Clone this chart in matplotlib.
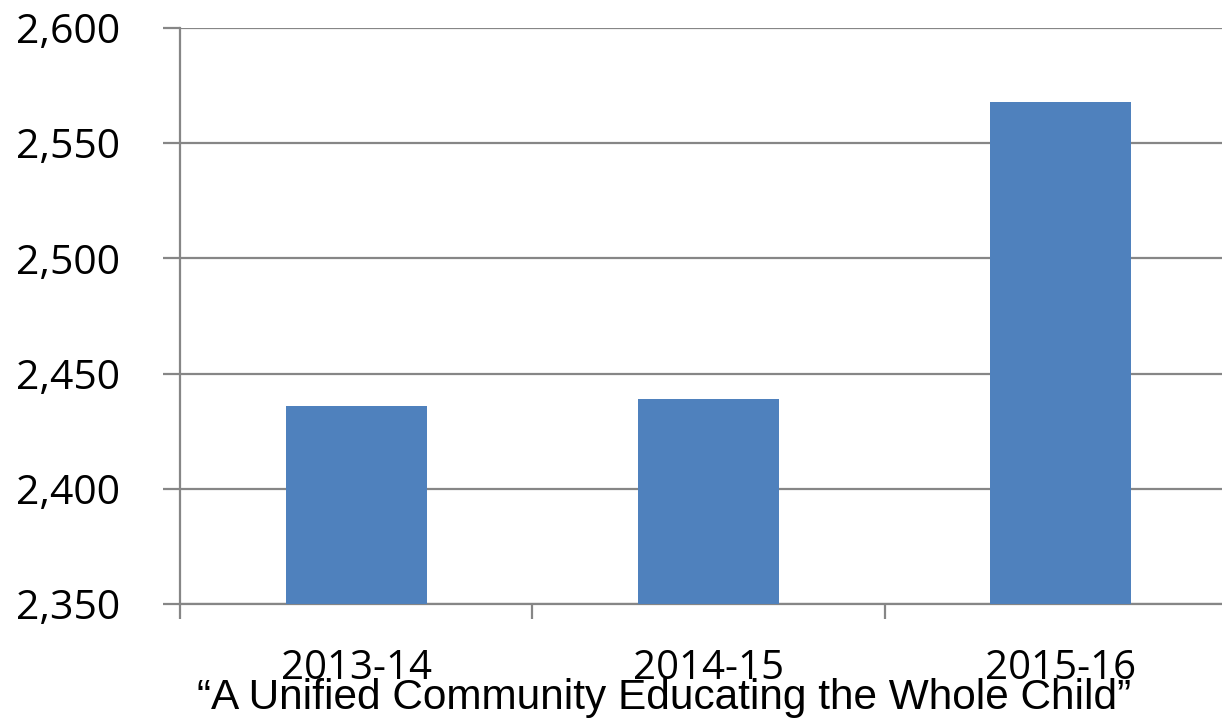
import matplotlib
matplotlib.use("Agg")
import matplotlib.pyplot as plt
from matplotlib.ticker import FuncFormatter, FixedLocator

categories = ["2013-14", "2014-15", "2015-16"]
values = [2436, 2439, 2568]
yticks = [2350, 2400, 2450, 2500, 2550, 2600]
footer = "\u201cA Unified Community Educating the Whole Child\u201d"

fig = plt.figure(figsize=(12.22, 7.19), dpi=100)
W, H = 1222, 719
ax = fig.add_axes([180 / W, 115 / H, 1057 / W, 576 / H])

x = list(range(len(categories)))
ax.bar(x, values, width=0.4, color="#4F81BD", zorder=3)
ax.set_xlim(-0.5, len(categories) - 0.5)
ax.set_ylim(yticks[0], yticks[-1])

grid_c = "#868686"
ax.set_yticks(yticks)
ax.yaxis.set_major_formatter(FuncFormatter(lambda v, p: f"{int(v):,}"))
ax.grid(axis="y", color=grid_c, linewidth=1.6, zorder=1)
ax.tick_params(axis="y", length=12, width=1.6, color=grid_c, pad=31,
               labelsize=29.5, labelcolor="black")
for lab in ax.get_yticklabels():
    lab.set_fontfamily("Open Sans")

ax.xaxis.set_major_locator(FixedLocator([i - 0.5 for i in range(len(categories) + 1)]))
ax.xaxis.set_major_formatter(FuncFormatter(lambda v, p: ""))
ax.xaxis.set_minor_locator(FixedLocator(x))
ax.set_xticklabels(categories, minor=True)
ax.tick_params(axis="x", which="major", length=11, width=1.6, color=grid_c)
ax.tick_params(axis="x", which="minor", length=0, pad=32, labelsize=29)
for lab in ax.get_xticklabels(minor=True):
    lab.set_fontfamily("Open Sans")

for s in ["top", "right"]:
    ax.spines[s].set_visible(False)
ax.spines["left"].set_color(grid_c)
ax.spines["left"].set_linewidth(1.6)
ax.spines["bottom"].set_color(grid_c)
ax.spines["bottom"].set_linewidth(1.6)

fig.text(664 / W, 1 - 709 / H, footer, ha="center", va="baseline",
         fontsize=30.5, family="Liberation Sans", color="black")

fig.savefig("out.png", dpi=100)
